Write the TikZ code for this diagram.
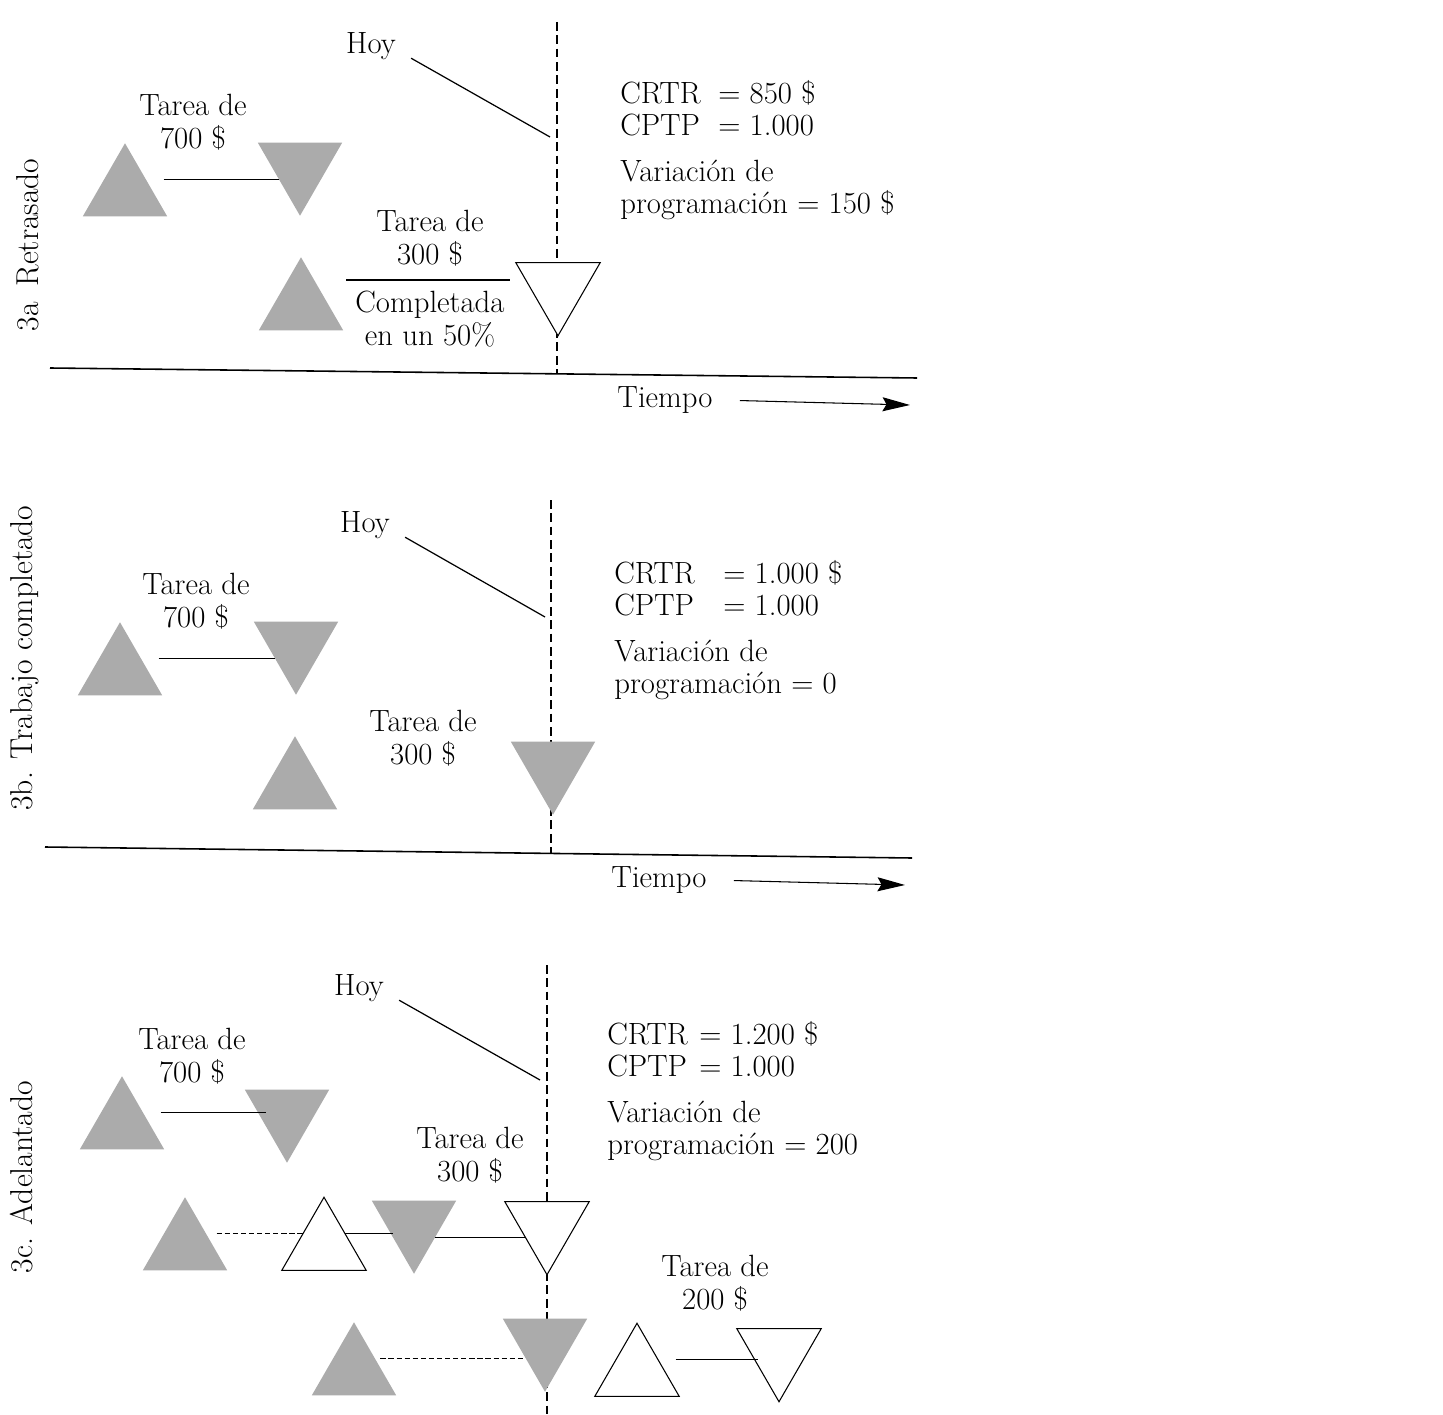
\documentclass[tikz,border=0pt]{standalone}
\usepackage{tikz}
\usetikzlibrary{arrows.meta,shapes.geometric}
\begin{document}
\begin{tikzpicture}[x=0.02cm,y=-0.02cm,font=\fontsize{17.5}{18.5}\selectfont,
  tri/.style={regular polygon,regular polygon sides=3,minimum size=1.95cm,inner sep=0pt,outer sep=0pt},
  doneTri/.style={tri,fill=black!33},
  todoTri/.style={tri,draw=black,fill=white,line width=0.6pt},
  flip/.style={shape border rotate=180},
  txt/.style={align=center,inner sep=1pt},
  info/.style={align=left,anchor=west,inner sep=0pt},
  link/.style={line width=0.7pt},
  dlink/.style={link,dash pattern=on 3pt off 1.6pt},
  today/.style={line width=0.7pt,dash pattern=on 5pt off 2.6pt},
  timeline/.style={line width=0.9pt},
  tarr/.style={line width=0.6pt,-{Stealth[length=5.5mm,width=2.8mm,inset=0.8mm]}},
  panel/.style={rotate=90,font=\fontsize{18}{20}\selectfont}]
\useasboundingbox (0,0) rectangle (1443,1415);
% 3a: retrasado
\node[panel] (lblA) at (28,245) {3a\enspace Retrasado};
\coordinate (nowA1) at (557,22); \coordinate (nowA2) at (557,374);
\draw[today] (nowA1) -- (nowA2);
\draw[timeline] (50,368) -- (917,378);
\node (hoyA) at (371,46) {Hoy};
\coordinate (hoyAend) at (550,137);
\draw[link,shorten <=6pt] ([yshift=-4pt]hoyA.east) -- (hoyAend);
\node[txt] (t700A) at (193,122) {Tarea de\\700 \$};
\node[doneTri] (aA) at (125,192) {};
\node[doneTri,flip] (bA) at (300,167) {};
\draw[link,shorten <=10pt] (aA.side 3) -- (aA.side 3 -| bA.side 3);
\node[txt] (t300A) at (430,238) {Tarea de\\300 \$};
\draw[link] (346,280) -- (510,280);
\node[txt] (compA) at (430,319) {Completada\\en un 50\%};
\node[doneTri] (cA) at (301,306) {};
\node[todoTri,flip] (dA) at (558,287) {};
\node[info] (valsA) at (620,108) {\makebox[1.96cm][l]{CRTR}= 850 \$\\\makebox[1.96cm][l]{CPTP}= 1.000};
\node[info] (varA) at (620,190) {Variación de\\programación = 150 \$};
\node (tiempoA) at (665,400) {Tiempo};
\coordinate (tendA) at (910,405);
\draw[tarr,shorten <=12pt] (tiempoA.east) -- (tendA);
% 3b: trabajo completado
\node[panel] (lblB) at (25,658) {3b. Trabajo completado};
\coordinate (nowB1) at (551,500); \coordinate (nowB2) at (551,854);
\draw[today] (nowB1) -- (nowB2);
\draw[timeline] (45,847) -- (912,858);
\node (hoyB) at (365,525) {Hoy};
\coordinate (hoyBend) at (545,617);
\draw[link,shorten <=6pt] ([yshift=-4pt]hoyB.east) -- (hoyBend);
\node[txt] (t700B) at (196,601) {Tarea de\\700 \$};
\node[doneTri] (aB) at (120,671) {};
\node[doneTri,flip] (bB) at (296,646) {};
\draw[link,shorten <=10pt] (aB.side 3) -- (aB.side 3 -| bB.side 3);
\node[txt] (t300B) at (423,738) {Tarea de\\300 \$};
\node[doneTri] (cB) at (295,785) {};
\node[doneTri,flip] (dB) at (553,766) {};
\node[info] (valsB) at (614,588) {\makebox[2.18cm][l]{CRTR}= 1.000 \$\\\makebox[2.18cm][l]{CPTP}= 1.000};
\node[info] (varB) at (614,670) {Variación de\\programación = 0};
\node (tiempoB) at (659,880) {Tiempo};
\coordinate (tendB) at (905,885);
\draw[tarr,shorten <=12pt] (tiempoB.east) -- (tendB);
% 3c: adelantado
\node[panel] (lblC) at (22,1177) {3c. Adelantado};
\coordinate (nowC1) at (547,965); \coordinate (nowC2) at (547,1415);
\draw[today] (nowC1) -- (nowC2);
\node (hoyC) at (359,988) {Hoy};
\coordinate (hoyCend) at (540,1080);
\draw[link,shorten <=6pt] ([yshift=-4pt]hoyC.east) -- (hoyCend);
\node[txt] (t700C) at (192,1056) {Tarea de\\700 \$};
\node[doneTri] (aC) at (122,1125) {};
\node[doneTri,flip] (bC) at (287,1114) {};
\draw[link,shorten <=10pt] (aC.side 3) -- (aC.side 3 -| bC.side 3);
\node[txt] (t300C) at (470,1155) {Tarea de\\300 \$};
\node[doneTri] (cC) at (185,1246) {};
\node[todoTri] (eC) at (324,1246) {};
\node[doneTri,flip] (fC) at (414,1225) {};
\node[todoTri,flip] (gC) at (547,1226) {};
\draw[dlink,shorten <=6pt] (cC.side 3) -- (cC.side 3 -| eC.side 1);
\draw[link] (eC.side 3) -- (eC.side 3 -| fC.side 3);
\draw[link] (fC.side 1) -- (fC.side 1 -| gC.side 3);
\node[txt] (t200C) at (715,1283) {Tarea de\\200 \$};
\node[doneTri] (hC) at (354,1371) {};
\node[doneTri,flip] (iC) at (545,1343) {};
\node[todoTri] (jC) at (637,1372) {};
\node[todoTri,flip] (kC) at (779,1353) {};
\draw[dlink,shorten <=3pt] (hC.side 3) -- (hC.side 3 -| iC.side 3);
\draw[link,shorten <=10pt] (jC.side 3) -- (jC.side 3 -| kC.side 3);
\node[info] (valsC) at (607,1049) {\makebox[1.84cm][l]{CRTR}= 1.200 \$\\\makebox[1.84cm][l]{CPTP}= 1.000};
\node[info] (varC) at (607,1131) {Variación de\\programación = 200};
\end{tikzpicture}
\end{document}
